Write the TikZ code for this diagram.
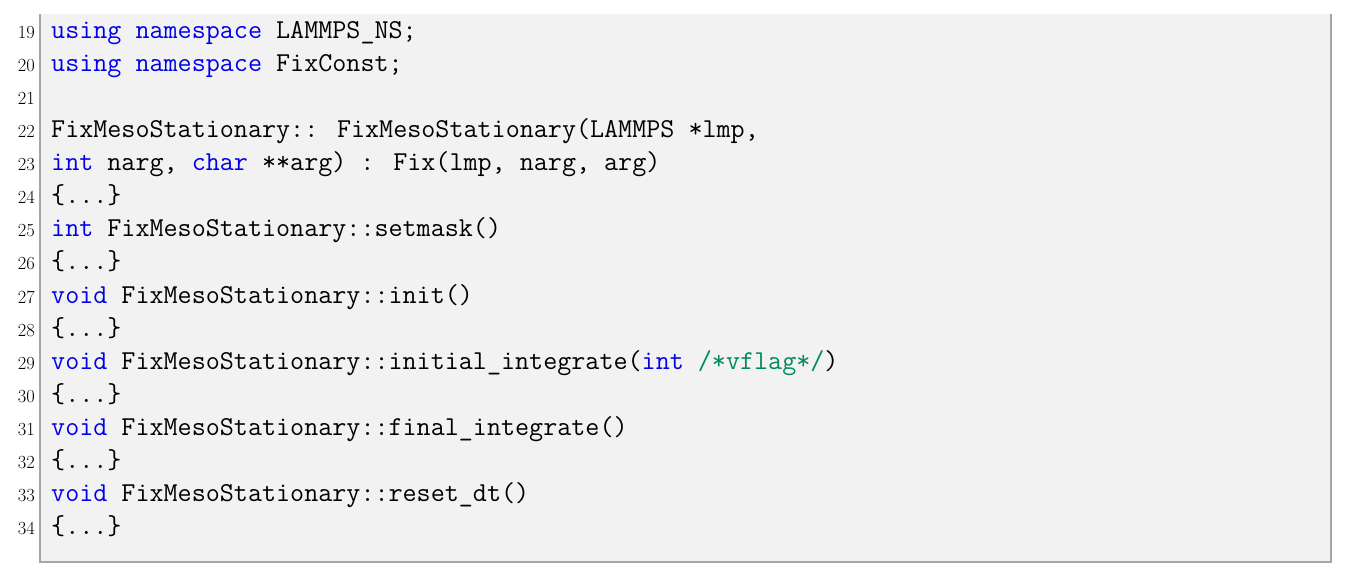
\documentclass[tikz,border=0pt]{standalone}
\begin{document}
\begin{tikzpicture}[x=1pt,y=-1pt,
  code/.style={anchor=base west,inner sep=0pt,font=\fontsize{27.3}{30}\ttfamily},
  num/.style={anchor=base east,inner sep=0pt,font=\fontsize{18.5}{20}\selectfont}]
\definecolor{kw}{RGB}{0,0,230}
\definecolor{cm}{RGB}{0,140,90}
\definecolor{bg}{RGB}{242,242,242}
\definecolor{fr}{RGB}{165,165,165}
\useasboundingbox (0,0) rectangle (1347,576);
\fill[bg] (40,14) rectangle (1331,562);
\draw[fr,line width=1.5pt] (40,14) -- (40,562) -- (1331,562) -- (1331,14);
\def\L#1#2#3{\node[num] (n#1) at (35,{38.5+33.07*#2}) {#1};
  \node[code] (c#1) at (51,{38.5+33.07*#2}) {#3};}
\L{19}{0}{\textcolor{kw}{using namespace} LAMMPS\_NS;}
\L{20}{1}{\textcolor{kw}{using namespace} FixConst;}
\L{21}{2}{}
\L{22}{3}{FixMesoStationary:: FixMesoStationary(LAMMPS *lmp,}
\L{23}{4}{\textcolor{kw}{int} narg, \textcolor{kw}{char} **arg) : Fix(lmp, narg, arg)}
\L{24}{5}{\{...\}}
\L{25}{6}{\textcolor{kw}{int} FixMesoStationary::setmask()}
\L{26}{7}{\{...\}}
\L{27}{8}{\textcolor{kw}{void} FixMesoStationary::init()}
\L{28}{9}{\{...\}}
\L{29}{10}{\textcolor{kw}{void} FixMesoStationary::initial\_integrate(\textcolor{kw}{int} \textcolor{cm}{/*vflag*/})}
\L{30}{11}{\{...\}}
\L{31}{12}{\textcolor{kw}{void} FixMesoStationary::final\_integrate()}
\L{32}{13}{\{...\}}
\L{33}{14}{\textcolor{kw}{void} FixMesoStationary::reset\_dt()}
\L{34}{15}{\{...\}}
\end{tikzpicture}
\end{document}
